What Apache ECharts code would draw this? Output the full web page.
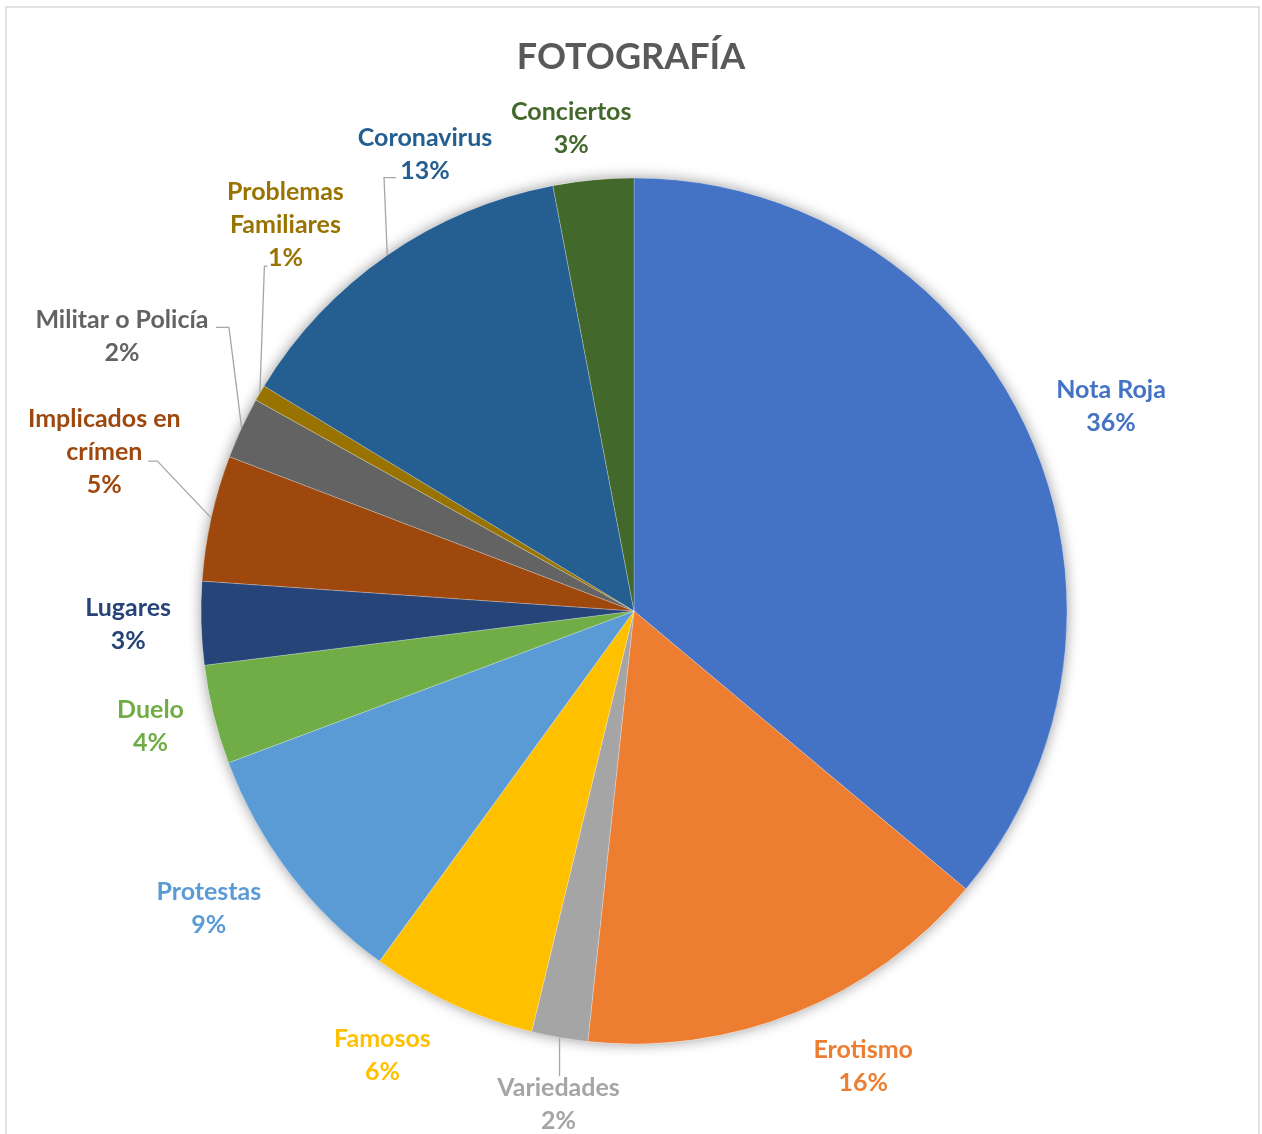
<!DOCTYPE html>
<html>
<head>
<meta charset="utf-8">
<script src="https://cdn.jsdelivr.net/npm/echarts@6/dist/echarts.min.js"></script>
<style>
html,body{margin:0;padding:0;background:#fff;}
#chart{width:1262px;height:1134px;}
</style>
</head>
<body>
<div id="chart"></div>
<script>
// ---- data (percent of photographs per topic) ----
const categories = ['Nota Roja','Erotismo','Variedades','Famosos','Protestas','Duelo','Lugares','Implicados en\ncrímen','Militar o Policía','Problemas\nFamiliares','Coronavirus','Conciertos'];
const values = [36.1, 15.6, 2.1, 6.2, 9.3, 3.7, 3.1, 4.7, 2.3, 0.6, 13.3, 3.0];
const colors = ['#4472C4','#ED7D31','#A5A5A5','#FFC000','#5B9BD5','#70AD47','#264478','#9E480E','#636363','#997300','#255E91','#43682B'];
const titleText = 'FOTOGRAFÍA';

// ---- layout ----
const CX = 634, CY = 611, R = 433;
const total = values.reduce((a, b) => a + b, 0);
// label block placement (polar: angle clockwise from top in degrees, distance from centre)
const labelPolar = [[66.8,519],[153.3,510],[188.7,499],[209.5,511],[235.0,519],[256.6,497],[268.5,506],[286.7,553],[298.2,581],[317.9,520],[335.4,502],[352.6,487]];
// leader lines: offsets of [elbow, end] relative to the label centre; 'v' = vertical to label
const leaders = {
  2: 'v',
  7: [[53, 9], [44, 9]],
  8: [[107, -9], [94, -9]],
  9: [[-21, 41], [-18, 41]],
  10: [[-41, 23], [-29, 23]]
};

function midAngle(i) {
  let s = 0;
  for (let k = 0; k < i; k++) s += values[k];
  return (s + values[i] / 2) / total * 2 * Math.PI;
}

const chart = echarts.init(document.getElementById('chart'), null, {renderer: 'canvas'});
const FONT = 'Lato';

const pieData = categories.map((name, i) => ({
  name: name,
  value: values[i],
  itemStyle: {color: colors[i]},
  label: {color: colors[i]},
  labelLine: {show: leaders[i] !== undefined}
}));

chart.setOption({
  backgroundColor: '#ffffff',
  animation: false,
  title: {
    text: titleText,
    left: 'center',
    top: 34,
    textStyle: {fontFamily: FONT, fontWeight: 'bold', fontSize: 36, color: '#595959'}
  },
  graphic: [{
    type: 'rect',
    shape: {x: 6, y: 7, width: 1253, height: 1140},
    style: {fill: 'none', stroke: '#D9D9D9', lineWidth: 1.5},
    silent: true
  }],
  series: [
    {
      type: 'pie',
      silent: true,
      center: [CX, CY],
      radius: R,
      z: 1,
      data: [{value: total, name: ''}],
      label: {show: false},
      labelLine: {show: false},
      itemStyle: {color: '#ffffff', shadowBlur: 14, shadowColor: 'rgba(0,0,0,0.4)'}
    },
    {
      type: 'pie',
      center: [CX, CY],
      radius: R,
      z: 2,
      startAngle: 90,
      clockwise: true,
      avoidLabelOverlap: false,
      data: pieData,
      itemStyle: {borderColor: 'rgba(255,255,255,0.6)', borderWidth: 0.4},
      label: {
        show: true,
        position: 'outside',
        fontFamily: FONT,
        fontWeight: 'bold',
        fontSize: 25,
        lineHeight: 33,
        align: 'center',
        formatter: p => p.name + '\n' + Math.round(p.value / total * 100) + '%'
      },
      labelLine: {
        show: true,
        length: 10,
        length2: 10,
        smooth: false,
        lineStyle: {color: '#A6A6A6', width: 1.3}
      },
      labelLayout: function (params) {
        const i = params.dataIndex;
        const pol = labelPolar[i];
        const a = pol[0] * Math.PI / 180;
        const lx = CX + pol[1] * Math.sin(a);
        const ly = CY - pol[1] * Math.cos(a);
        const out = {x: lx, y: ly, align: 'center', verticalAlign: 'middle'};
        const ld = leaders[i];
        if (ld !== undefined) {
          const m = midAngle(i);
          const ex = CX + R * Math.sin(m);
          const ey = CY - R * Math.cos(m);
          if (ld === 'v') {
            const endY = ly - params.labelRect.height / 2 + 5;
            out.labelLinePoints = [[ex, ey], [ex, (ey + endY) / 2], [ex, endY]];
          } else {
            out.labelLinePoints = [[ex, ey], [lx + ld[0][0], ly + ld[0][1]], [lx + ld[1][0], ly + ld[1][1]]];
          }
        }
        return out;
      }
    }
  ]
});
</script>
</body>
</html>
